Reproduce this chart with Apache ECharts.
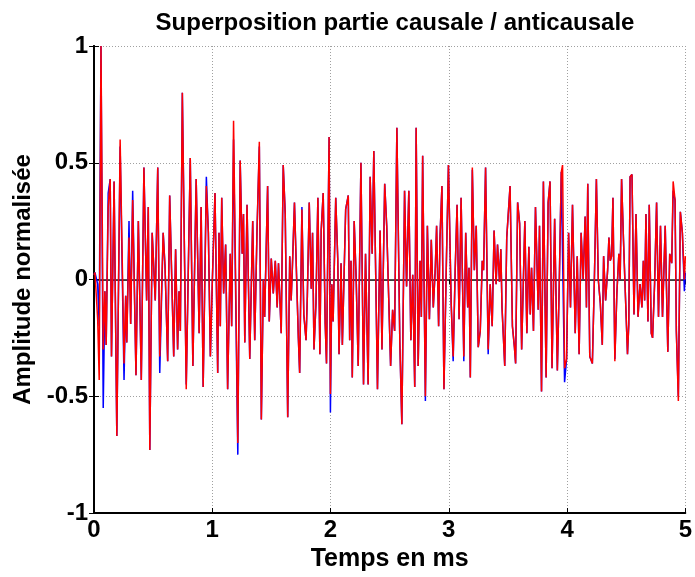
<!DOCTYPE html>
<html>
<head>
<meta charset="utf-8">
<script src="https://cdn.jsdelivr.net/npm/echarts@6/dist/echarts.min.js"></script>
<style>
  html, body { margin: 0; padding: 0; background: #fff; }
  #chart { width: 695px; height: 577px; }
</style>
</head>
<body>
<div id="chart"></div>
<script>
// temps (ms) des points
var temps = [0, 0.008, 0.031, 0.044, 0.059, 0.078, 0.092, 0.103, 0.120, 0.137, 0.148, 0.170, 0.193, 0.221, 0.254, 0.268, 0.277, 0.296, 0.310, 0.327,
  0.355, 0.375, 0.400, 0.422, 0.445, 0.459, 0.472, 0.492, 0.518, 0.539, 0.556, 0.585, 0.601, 0.623, 0.640, 0.674, 0.690, 0.707, 0.719, 0.730,
  0.747, 0.780, 0.814, 0.836, 0.864, 0.889, 0.906, 0.923, 0.950, 0.967, 0.984, 1.001, 1.023, 1.046, 1.057, 1.068, 1.080, 1.096, 1.113, 1.130,
  1.152, 1.164, 1.180, 1.216, 1.236, 1.253, 1.264, 1.275, 1.294, 1.317, 1.342, 1.359, 1.378, 1.398, 1.415, 1.432, 1.443, 1.468, 1.482, 1.499,
  1.516, 1.533, 1.549, 1.560, 1.583, 1.600, 1.617, 1.638, 1.655, 1.667, 1.678, 1.695, 1.728, 1.739, 1.758, 1.774, 1.793, 1.804, 1.820, 1.837,
  1.848, 1.860, 1.877, 1.893, 1.910, 1.921, 1.938, 1.955, 1.966, 1.988, 1.999, 2.011, 2.022, 2.044, 2.061, 2.072, 2.089, 2.100, 2.128, 2.150,
  2.162, 2.173, 2.184, 2.200, 2.217, 2.234, 2.257, 2.279, 2.296, 2.318, 2.335, 2.352, 2.366, 2.397, 2.419, 2.435, 2.458, 2.475, 2.492, 2.508,
  2.525, 2.542, 2.561, 2.586, 2.603, 2.626, 2.643, 2.662, 2.679, 2.695, 2.712, 2.724, 2.741, 2.757, 2.768, 2.779, 2.802, 2.819, 2.836, 2.852,
  2.869, 2.886, 2.897, 2.914, 2.925, 2.942, 2.959, 2.981, 2.997, 3.020, 3.037, 3.054, 3.070, 3.087, 3.104, 3.127, 3.143, 3.160, 3.171, 3.182,
  3.199, 3.216, 3.232, 3.249, 3.266, 3.283, 3.294, 3.311, 3.333, 3.350, 3.367, 3.383, 3.400, 3.412, 3.429, 3.440, 3.450, 3.473, 3.490, 3.518,
  3.538, 3.555, 3.565, 3.582, 3.599, 3.616, 3.643, 3.660, 3.677, 3.689, 3.700, 3.716, 3.733, 3.756, 3.767, 3.784, 3.800, 3.823, 3.840, 3.856,
  3.873, 3.895, 3.918, 3.934, 3.951, 3.962, 3.979, 3.996, 4.013, 4.029, 4.046, 4.069, 4.086, 4.102, 4.119, 4.136, 4.153, 4.164, 4.175, 4.192,
  4.214, 4.231, 4.248, 4.264, 4.281, 4.298, 4.309, 4.326, 4.343, 4.354, 4.365, 4.377, 4.388, 4.404, 4.421, 4.438, 4.449, 4.461, 4.477, 4.488,
  4.511, 4.522, 4.533, 4.549, 4.566, 4.583, 4.600, 4.617, 4.633, 4.645, 4.656, 4.667, 4.684, 4.695, 4.712, 4.723, 4.740, 4.757, 4.773, 4.790,
  4.807, 4.830, 4.852, 4.868, 4.885, 4.897, 4.913, 4.924, 4.941, 4.958, 4.975, 4.992, 5.000];

// partie causale (bleu)
var causale = [0.02, 0.03, -0.02, -0.20, 1.00, -0.55, -0.05, -0.28, 0.37, 0.43, -0.33, 0.42, -0.67, 0.57, -0.43, -0.07, -0.27, 0.25, -0.19, 0.38,
  -0.41, 0.25, -0.43, 0.48, -0.09, 0.31, -0.73, 0.20, -0.09, 0.48, -0.40, 0.20, 0.05, -0.35, 0.36, -0.33, 0.13, -0.30, -0.05, -0.22,
  0.80, -0.45, 0.52, -0.37, 0.43, -0.23, 0.31, -0.46, 0.44, 0.20, -0.33, 0.00, 0.37, -0.40, 0.20, -0.20, 0.35, -0.06, 0.15, -0.47,
  0.11, -0.20, 0.60, -0.75, 0.51, 0.11, 0.28, -0.27, 0.32, -0.34, 0.25, -0.26, 0.20, 0.57, -0.60, 0.00, -0.16, 0.40, -0.18, 0.09,
  -0.06, 0.08, -0.12, 0.07, -0.23, 0.49, 0.28, -0.59, 0.10, -0.09, 0.06, 0.33, -0.25, -0.40, 0.31, -0.15, -0.26, -0.07, 0.33, -0.04,
  0.20, -0.30, -0.10, 0.35, -0.32, 0.21, 0.37, -0.19, -0.36, 0.61, -0.57, -0.02, -0.18, 0.35, 0.09, -0.32, 0.07, -0.28, 0.30, 0.36,
  -0.26, 0.08, -0.42, 0.25, 0.00, -0.37, 0.50, -0.45, 0.11, -0.45, 0.44, 0.11, 0.55, -0.47, 0.21, -0.30, 0.41, 0.23, -0.08, -0.37,
  -0.13, -0.22, 0.65, -0.27, -0.62, 0.38, -0.03, 0.38, -0.26, 0.02, -0.46, 0.65, -0.37, 0.08, -0.16, 0.53, -0.52, 0.23, -0.17, 0.17,
  -0.12, 0.05, 0.23, -0.20, 0.17, 0.40, -0.47, 0.11, 0.49, -0.10, -0.35, 0.04, 0.32, -0.17, 0.35, -0.35, 0.20, -0.12, 0.05, -0.42,
  0.47, 0.04, 0.23, -0.29, -0.22, 0.08, 0.04, 0.48, -0.32, -0.02, -0.20, 0.21, -0.02, 0.15, -0.01, 0.13, -0.12, -0.37, 0.18, 0.40,
  -0.20, -0.29, -0.36, 0.33, 0.24, -0.30, 0.25, -0.23, 0.14, -0.15, 0.05, -0.22, 0.31, -0.13, 0.23, -0.48, 0.42, -0.42, 0.33, 0.42,
  -0.38, 0.26, -0.39, -0.02, 0.46, 0.46, -0.44, -0.34, 0.20, -0.12, 0.32, -0.23, 0.10, -0.32, 0.20, 0.00, 0.27, -0.12, 0.41, -0.33,
  -0.36, 0.00, 0.43, 0.00, -0.10, -0.28, 0.10, -0.09, 0.04, 0.18, 0.08, 0.10, 0.35, -0.34, -0.06, 0.11, 0.00, 0.43, 0.17, 0.01,
  -0.32, -0.19, 0.44, 0.45, -0.15, 0.28, -0.16, -0.02, -0.12, 0.08, -0.09, 0.28, -0.18, 0.32, -0.23, -0.25, -0.02, 0.33, -0.16, 0.23,
  -0.16, 0.23, -0.31, 0.11, 0.07, 0.38, 0.34, -0.22, -0.50, 0.29, 0.20, -0.05, 0.03];

// partie anticausale (rouge)
var anticausale = [0.02, 0.03, -0.17, -0.43, 1.00, -0.30, -0.05, -0.28, 0.31, 0.43, -0.33, 0.42, -0.67, 0.60, -0.36, -0.07, -0.27, 0.18, -0.19, 0.34,
  -0.41, 0.25, -0.43, 0.48, -0.09, 0.31, -0.73, 0.20, -0.09, 0.48, -0.33, 0.20, 0.05, -0.35, 0.36, -0.33, 0.13, -0.30, -0.05, -0.22,
  0.80, -0.47, 0.52, -0.37, 0.43, -0.23, 0.31, -0.46, 0.40, 0.20, -0.33, 0.00, 0.37, -0.40, 0.20, -0.20, 0.35, -0.06, 0.15, -0.47,
  0.11, -0.20, 0.68, -0.70, 0.51, 0.11, 0.28, -0.27, 0.32, -0.34, 0.25, -0.26, 0.20, 0.59, -0.60, 0.00, -0.16, 0.40, -0.18, 0.09,
  -0.06, 0.08, -0.12, 0.07, -0.23, 0.49, 0.28, -0.59, 0.10, -0.09, 0.06, 0.33, -0.25, -0.40, 0.30, -0.15, -0.26, -0.07, 0.33, -0.04,
  0.20, -0.30, -0.10, 0.35, -0.32, 0.21, 0.37, -0.19, -0.36, 0.61, -0.49, -0.02, -0.18, 0.35, 0.09, -0.32, 0.07, -0.28, 0.30, 0.36,
  -0.26, 0.08, -0.42, 0.25, 0.00, -0.37, 0.50, -0.45, 0.11, -0.45, 0.44, 0.11, 0.55, -0.47, 0.21, -0.30, 0.41, 0.23, -0.08, -0.37,
  -0.13, -0.22, 0.65, -0.27, -0.62, 0.38, -0.03, 0.38, -0.26, 0.02, -0.46, 0.65, -0.37, 0.08, -0.16, 0.53, -0.50, 0.23, -0.17, 0.17,
  -0.12, 0.05, 0.23, -0.20, 0.17, 0.40, -0.47, 0.11, 0.49, -0.10, -0.33, 0.04, 0.32, -0.17, 0.35, -0.33, 0.20, -0.12, 0.05, -0.42,
  0.48, 0.04, 0.23, -0.29, -0.22, 0.08, 0.04, 0.48, -0.30, -0.02, -0.20, 0.21, -0.02, 0.15, -0.01, 0.13, -0.12, -0.37, 0.18, 0.40,
  -0.20, -0.29, -0.36, 0.33, 0.24, -0.30, 0.25, -0.23, 0.14, -0.15, 0.05, -0.22, 0.31, -0.13, 0.23, -0.48, 0.42, -0.42, 0.33, 0.42,
  -0.38, 0.26, -0.39, -0.02, 0.46, 0.49, -0.38, -0.34, 0.20, -0.12, 0.32, -0.23, 0.10, -0.32, 0.20, 0.00, 0.27, -0.12, 0.41, -0.33,
  -0.36, 0.00, 0.43, 0.00, -0.10, -0.28, 0.10, -0.09, 0.04, 0.18, 0.08, 0.10, 0.35, -0.35, -0.06, 0.11, 0.00, 0.43, 0.17, 0.01,
  -0.32, -0.19, 0.44, 0.45, -0.15, 0.28, -0.16, -0.02, -0.12, 0.08, -0.09, 0.28, -0.18, 0.32, -0.23, -0.25, -0.02, 0.33, -0.16, 0.23,
  -0.16, 0.23, -0.31, 0.11, 0.07, 0.42, 0.34, -0.22, -0.52, 0.29, 0.20, 0.00, 0.10];

var xTicks = [0, 1, 2, 3, 4, 5];
var yTicks = [-1, -0.5, 0, 0.5, 1];

var chart = echarts.init(document.getElementById('chart'), null, {renderer: 'canvas'});

var bleu = [], rouge = [];
for (var i = 0; i < temps.length; i++) {
    bleu.push([temps[i], causale[i]]);
    rouge.push([temps[i], anticausale[i]]);
}

var police = '"Liberation Sans", Arial, sans-serif';
var grille = {show: true, lineStyle: {color: '#a0a0a0', type: [1, 2], width: 1}};

var option = {
    backgroundColor: '#fff',
    animation: false,
    title: {
        text: 'Superposition partie causale / anticausale',
        left: 390, top: 6, textAlign: 'center',
        textStyle: {fontFamily: police, fontWeight: 'bold', fontSize: 24, color: '#000'}
    },
    grid: {left: 94, right: 6, top: 46, bottom: 64},
    xAxis: [{
        type: 'value', min: xTicks[0], max: xTicks[xTicks.length - 1], interval: 1,
        name: 'Temps en ms', nameLocation: 'middle', nameGap: 33,
        nameTextStyle: {fontFamily: police, fontWeight: 'bold', fontSize: 25, color: '#000'},
        axisLine: {show: true, onZero: false, lineStyle: {color: '#000', width: 2}},
        axisTick: {show: true, inside: true, length: 5, lineStyle: {color: '#000'}},
        axisLabel: {fontFamily: police, fontWeight: 'bold', fontSize: 24, color: '#000', margin: 5},
        splitLine: grille
    }, {
        type: 'value', position: 'top', min: 0, max: 5, interval: 1,
        axisLine: {show: true, lineStyle: {color: '#000', width: 1.5}},
        axisTick: {show: true, inside: true, length: 5, lineStyle: {color: '#000'}},
        axisLabel: {show: false}, splitLine: {show: false}
    }, {
        // ligne du zéro
        type: 'value', position: 'bottom', min: 0, max: 5, interval: 1,
        axisLine: {show: true, onZero: true, lineStyle: {color: '#555', width: 1}},
        axisTick: {show: false}, axisLabel: {show: false}, splitLine: {show: false}
    }],
    yAxis: [{
        type: 'value', min: yTicks[0], max: yTicks[yTicks.length - 1], interval: 0.5,
        name: 'Amplitude normalisée', nameLocation: 'middle', nameGap: 57, nameRotate: 90,
        nameTextStyle: {fontFamily: police, fontWeight: 'bold', fontSize: 24, color: '#000'},
        axisLine: {show: true, onZero: false, lineStyle: {color: '#000', width: 2}},
        axisTick: {show: true, inside: true, length: 5, lineStyle: {color: '#000'}},
        axisLabel: {fontFamily: police, fontWeight: 'bold', fontSize: 24, color: '#000', margin: 6},
        splitLine: grille
    }, {
        type: 'value', position: 'right', min: -1, max: 1, interval: 0.5,
        axisLine: {show: true, lineStyle: {color: '#000', width: 2}},
        axisTick: {show: true, inside: true, length: 5, lineStyle: {color: '#000'}},
        axisLabel: {show: false}, splitLine: {show: false}
    }],
    series: [{
        name: 'causale', type: 'line', data: bleu, showSymbol: false, clip: true,
        lineStyle: {color: '#0000ff', width: 1.5}, itemStyle: {color: '#0000ff'}
    }, {
        name: 'anticausale', type: 'line', data: rouge, showSymbol: false, clip: true,
        lineStyle: {color: '#ff0000', width: 1.5}, itemStyle: {color: '#ff0000'}
    }]
};
chart.setOption(option);
</script>
</body>
</html>
